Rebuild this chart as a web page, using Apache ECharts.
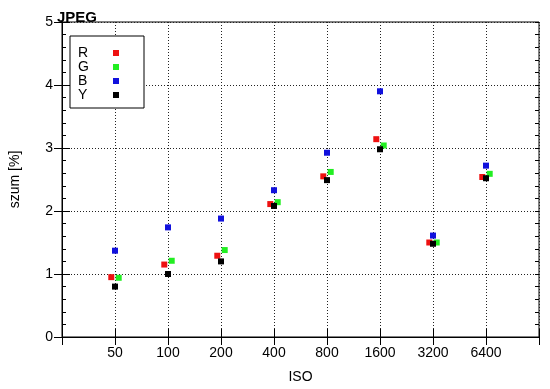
<!DOCTYPE html>
<html><head><meta charset="utf-8">
<script src="https://cdn.jsdelivr.net/npm/echarts@6/dist/echarts.min.js"></script>
<style>html,body{margin:0;padding:0;background:#fff}#c{width:550px;height:389px}</style>
</head><body><div id="c"></div>
<script>
const isoLabels = ['50','100','200','400','800','1600','3200','6400'];
const seriesNames = ['R','G','B','Y'];
const rValues = [0.95,1.15,1.29,2.11,2.55,3.14,1.50,2.54];
const gValues = [0.94,1.21,1.38,2.14,2.62,3.04,1.50,2.59];
const bValues = [1.37,1.74,1.88,2.33,2.925,3.90,1.61,2.72];
const yValues = [0.80,1.00,1.20,2.08,2.49,2.98,1.48,2.52];

const font = '"Liberation Sans", Arial, sans-serif';
const colors = ['#ee1111','#22ee22','#1111dd','#000000'];
const offsets = [-0.07, 0.07, 0, 0];
const allValues = [rValues, gValues, bValues, yValues];

const chart = echarts.init(document.getElementById('c'), null, {renderer:'canvas'});
const gridLine = {show:true, lineStyle:{color:'#222', type:[1,2], width:1}};
const series = seriesNames.map((n,i)=>({
  name:n, type:'scatter', symbol:'rect', symbolSize:6,
  itemStyle:{color:colors[i], opacity:1},
  data: allValues[i].map((v,k)=>[k+1+offsets[i], v]),
  z: 3+i
}));
const minorY = pos => ({
  type:'value', min:0, max:5, interval:0.2, position:pos,
  axisLine:{show:false},
  axisTick:{show:true, inside:true, length:4, lineStyle:{color:'#000'}},
  axisLabel:{show:false}, splitLine:{show:false}
});
chart.setOption({
  animation:false,
  title:{text:'JPEG', left:57, top:10, padding:0, textStyle:{fontFamily:font, fontSize:15, fontWeight:'bold', color:'#000'}},
  grid:{left:57, right:11, top:22, bottom:52, show:true, borderColor:'#000', borderWidth:1, backgroundColor:'transparent'},
  legend:{
    left:70, top:36, orient:'vertical', align:'right',
    data: seriesNames.map(n=>({name:n, icon:'rect'})),
    itemWidth:6, itemHeight:6, itemGap:0,
    padding:[10,25,6,8], borderColor:'#000', borderWidth:1, backgroundColor:'#fff',
    formatter: n => '{a|' + n + '}',
    textStyle:{fontFamily:font, fontSize:14, color:'#000', lineHeight:14,
      rich:{a:{fontFamily:font, fontSize:14, color:'#000', lineHeight:14, width:30, align:'left'}}},
    selectedMode:false
  },
  xAxis:[{
    type:'value', min:0, max:9, interval:1,
    name:'ISO', nameLocation:'middle', nameGap:33,
    nameTextStyle:{fontFamily:font, fontSize:14, color:'#000'},
    axisLine:{show:true, lineStyle:{color:'#000'}},
    axisTick:{show:true, inside:true, length:8, lineStyle:{color:'#000'}},
    axisLabel:{fontFamily:font, fontSize:14, color:'#000', margin:9,
      formatter:v=> (v>=1 && v<=8) ? isoLabels[v-1] : ''},
    splitLine:gridLine
  },{
    type:'value', min:0, max:9, interval:1, position:'top',
    axisLine:{show:true, lineStyle:{color:'#000'}},
    axisTick:{show:true, inside:true, length:8, lineStyle:{color:'#000'}},
    axisLabel:{show:false}, splitLine:{show:false}
  }],
  yAxis:[{
    type:'value', min:0, max:5, interval:1,
    name:'szum [%]', nameLocation:'middle', nameGap:40, nameRotate:90,
    nameTextStyle:{fontFamily:font, fontSize:14, color:'#000'},
    axisLine:{show:true, lineStyle:{color:'#000'}},
    axisTick:{show:true, inside:true, length:8, lineStyle:{color:'#000'}},
    axisLabel:{fontFamily:font, fontSize:14, color:'#000', margin:9},
    splitLine:gridLine
  },{
    type:'value', min:0, max:5, interval:1, position:'right',
    axisLine:{show:true, lineStyle:{color:'#000'}},
    axisTick:{show:true, inside:true, length:8, lineStyle:{color:'#000'}},
    axisLabel:{show:false}, splitLine:{show:false}
  }, minorY('left'), minorY('right')],
  series: series
});
</script></body></html>
